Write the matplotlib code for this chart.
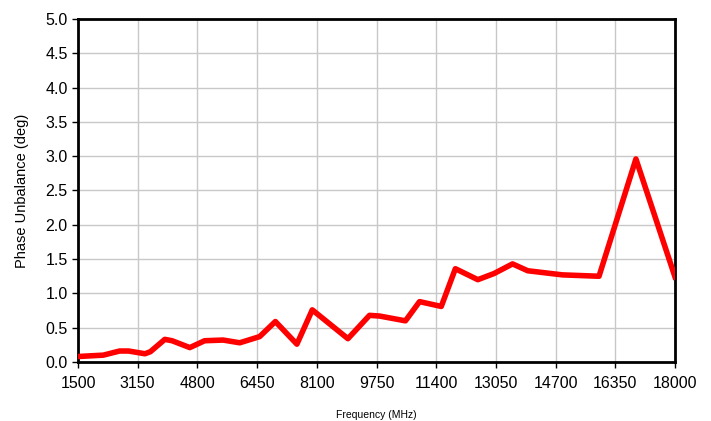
import numpy as np
import matplotlib.pyplot as plt
plt.rcParams['font.family'] = ['Liberation Sans', 'DejaVu Sans']

# data
freq = [1500, 2200, 2650, 2900, 3350, 3500, 3900, 4100, 4590, 5000, 5510,
        5970, 6520, 6955, 7550, 7975, 8960, 9557, 9833, 10550, 10940,
        11540, 11930, 12550, 13000, 13510, 13930, 14890, 15900, 16920, 18000]
phase = [0.08, 0.10, 0.16, 0.16, 0.12, 0.15, 0.33, 0.31, 0.21, 0.31, 0.32,
         0.28, 0.37, 0.59, 0.26, 0.76, 0.34, 0.68, 0.67, 0.60, 0.88,
         0.81, 1.36, 1.20, 1.29, 1.43, 1.33, 1.27, 1.25, 2.96, 1.24]
xticks = np.arange(1500, 18001, 1650)
yticks = np.arange(0, 5.01, 0.5)

fig = plt.figure(figsize=(7.11, 4.21), dpi=100)
ax = fig.add_axes([78/711, 1-362/421, 597/711, 343/421])
ax.plot(freq, phase, color='#ff0000', lw=4, solid_joinstyle='round', zorder=3)
ax.set_xlim(1500, 18000)
ax.set_ylim(0, 5)
ax.set_xticks(xticks)
ax.set_yticks(yticks)
ax.set_yticklabels(["%.1f" % v for v in yticks])
ax.grid(color='#c8c8c8', lw=1)
ax.set_axisbelow(True)
for s in ax.spines.values():
    s.set_color('black')
    s.set_linewidth(2)
ax.tick_params(labelsize=11.5, length=4, width=1, direction='out')
ax.tick_params(axis='x', pad=6)
ax.set_xlabel("Frequency (MHz)", fontsize=7.5, labelpad=14)
ax.set_ylabel("Phase Unbalance (deg)", fontsize=10.5, labelpad=12)
fig.savefig("out.png")
